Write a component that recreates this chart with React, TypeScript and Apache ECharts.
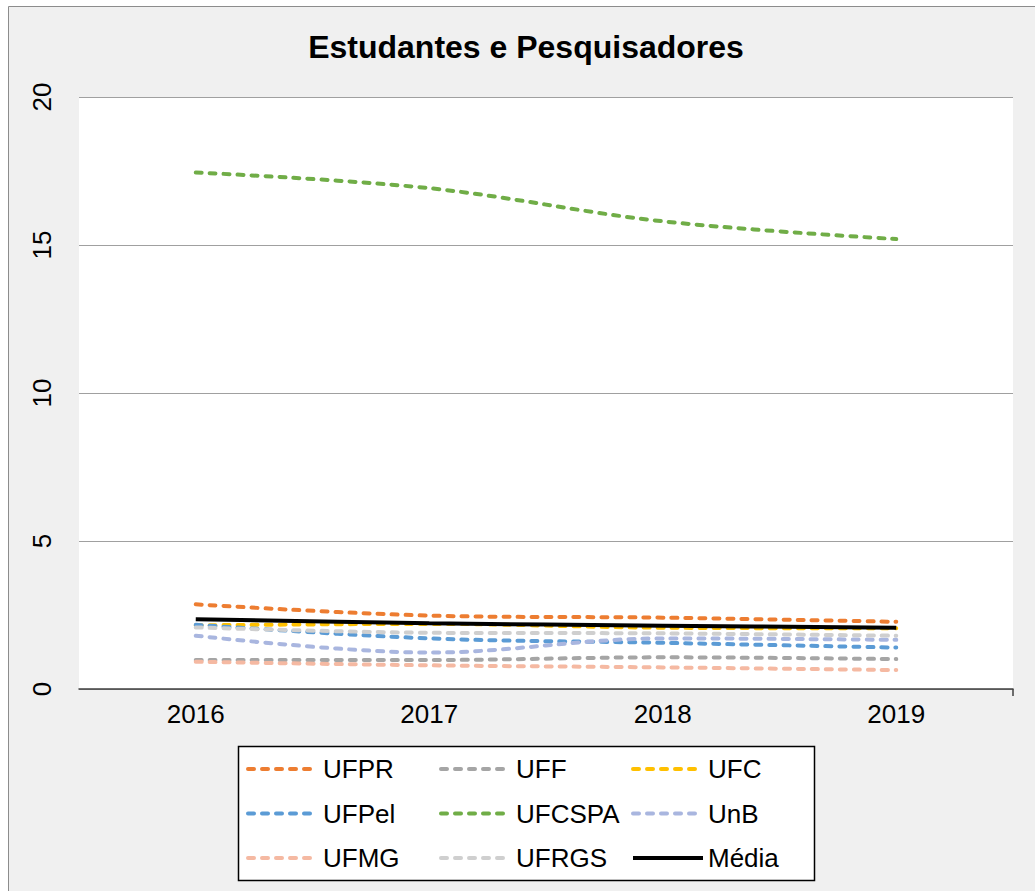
import React, { useEffect, useRef } from "react";
import * as echarts from "echarts";

const years = ["2016", "2017", "2018", "2019"];
const UFPR = [2.86, 2.48, 2.41, 2.27];
const UFF = [0.98, 0.98, 1.07, 1.01];
const UFC = [2.15, 2.2, 2.07, 2.05];
const UFPel = [2.17, 1.71, 1.56, 1.4];
const UFCSPA = [17.45, 16.92, 15.8, 15.2];
const UnB = [1.8, 1.23, 1.71, 1.66];
const UFMG = [0.92, 0.8, 0.73, 0.64];
const UFRGS = [2.08, 1.9, 1.88, 1.8];
const Media = [2.36, 2.22, 2.14, 2.07];

const seriesDefs = [
  { name: "UFPR", data: UFPR, color: "#ED7D31", dashed: true },
  { name: "UFF", data: UFF, color: "#A5A5A5", dashed: true },
  { name: "UFC", data: UFC, color: "#FFC000", dashed: true },
  { name: "UFPel", data: UFPel, color: "#5B9BD5", dashed: true },
  { name: "UFCSPA", data: UFCSPA, color: "#70AD47", dashed: true },
  { name: "UnB", data: UnB, color: "#A9B6DF", dashed: true },
  { name: "UFMG", data: UFMG, color: "#F5B9A2", dashed: true },
  { name: "UFRGS", data: UFRGS, color: "#CFCFCF", dashed: true },
  { name: "Média", data: Media, color: "#000000", dashed: false },
];

const legendColumns = [
  ["UFPR", "UFPel", "UFMG"],
  ["UFF", "UFCSPA", "UFRGS"],
  ["UFC", "UnB", "Média"],
];
const legendLefts = [246, 439, 631];

const FONT = "'Liberation Sans', Arial, sans-serif";

export default function App() {
  const ref = useRef<HTMLDivElement>(null);
  useEffect(() => {
    if (!ref.current) return;
    const chart = echarts.init(ref.current, null, { renderer: "svg" });
    chart.setOption({
      animation: false,
      backgroundColor: "#ffffff",
      textStyle: { fontFamily: FONT },
      graphic: [
        {
          type: "rect",
          z: -10,
          silent: true,
          shape: { x: 8.5, y: 6.5, width: 1100, height: 1000 },
          style: { fill: "#F0F0F0", stroke: "#8C8C8C", lineWidth: 1 },
        },
        {
          type: "rect",
          z: 1,
          silent: true,
          shape: { x: 238.5, y: 746.5, width: 576, height: 134 },
          style: { fill: "#ffffff", stroke: "#000000", lineWidth: 1.5 },
        },
        {
          type: "line",
          z: 5,
          silent: true,
          shape: { x1: 1013, y1: 689, x2: 1013, y2: 696 },
          style: { stroke: "#404040", lineWidth: 1.5 },
        },
        {
          type: "text",
          z: 5,
          x: 526,
          y: 47,
          style: {
            text: "Estudantes e Pesquisadores",
            font: `bold 32px ${FONT}`,
            fill: "#000000",
            textAlign: "center",
            textVerticalAlign: "middle",
          },
        },
      ],
      grid: {
        left: 79,
        top: 97,
        width: 934,
        height: 592,
        show: true,
        backgroundColor: "#ffffff",
        borderWidth: 0,
      },
      xAxis: {
        type: "category",
        data: years,
        boundaryGap: true,
        axisLine: { lineStyle: { color: "#404040", width: 1.5 } },
        axisTick: { alignWithLabel: true, length: 7, lineStyle: { color: "#404040", width: 1.5 } },
        axisLabel: { fontSize: 26, color: "#000", margin: 12, fontFamily: FONT },
        splitLine: { show: false },
      },
      yAxis: {
        type: "value",
        min: 0,
        max: 20,
        interval: 5,
        axisLine: { show: false },
        axisTick: { show: false },
        axisLabel: { fontSize: 26, color: "#000", margin: 24, rotate: 90, fontFamily: FONT },
        splitLine: { lineStyle: { color: "#A0A0A0", width: 1 } },
      },
      legend: legendColumns.map((names, i) => ({
        orient: "vertical",
        left: legendLefts[i],
        top: 755,
        z: 10,
        padding: 0,
        itemWidth: 70,
        itemHeight: 14,
        itemGap: 16.5,
        selectedMode: false,
        data: names,
        itemStyle: { opacity: 0, borderWidth: 0 },
        lineStyle: { width: 4, type: "inherit", cap: "inherit" },
        textStyle: { fontSize: 26, color: "#000", fontFamily: FONT, lineHeight: 28 },
      })),
      series: seriesDefs.map((s) => ({
        name: s.name,
        type: "line",
        data: s.data,
        smooth: 0.35,
        symbol: "none",
        color: s.color,
        lineStyle: {
          color: s.color,
          width: 4,
          type: s.dashed ? [6, 8] : "solid",
          cap: s.dashed ? "round" : "butt",
        },
      })),
    });
    return () => chart.dispose();
  }, []);
  return (
    <div style={{ position: "absolute", left: 0, top: 0, width: 1035, height: 891 }}>
      <div ref={ref} style={{ width: 1035, height: 891 }} />
    </div>
  );
}
